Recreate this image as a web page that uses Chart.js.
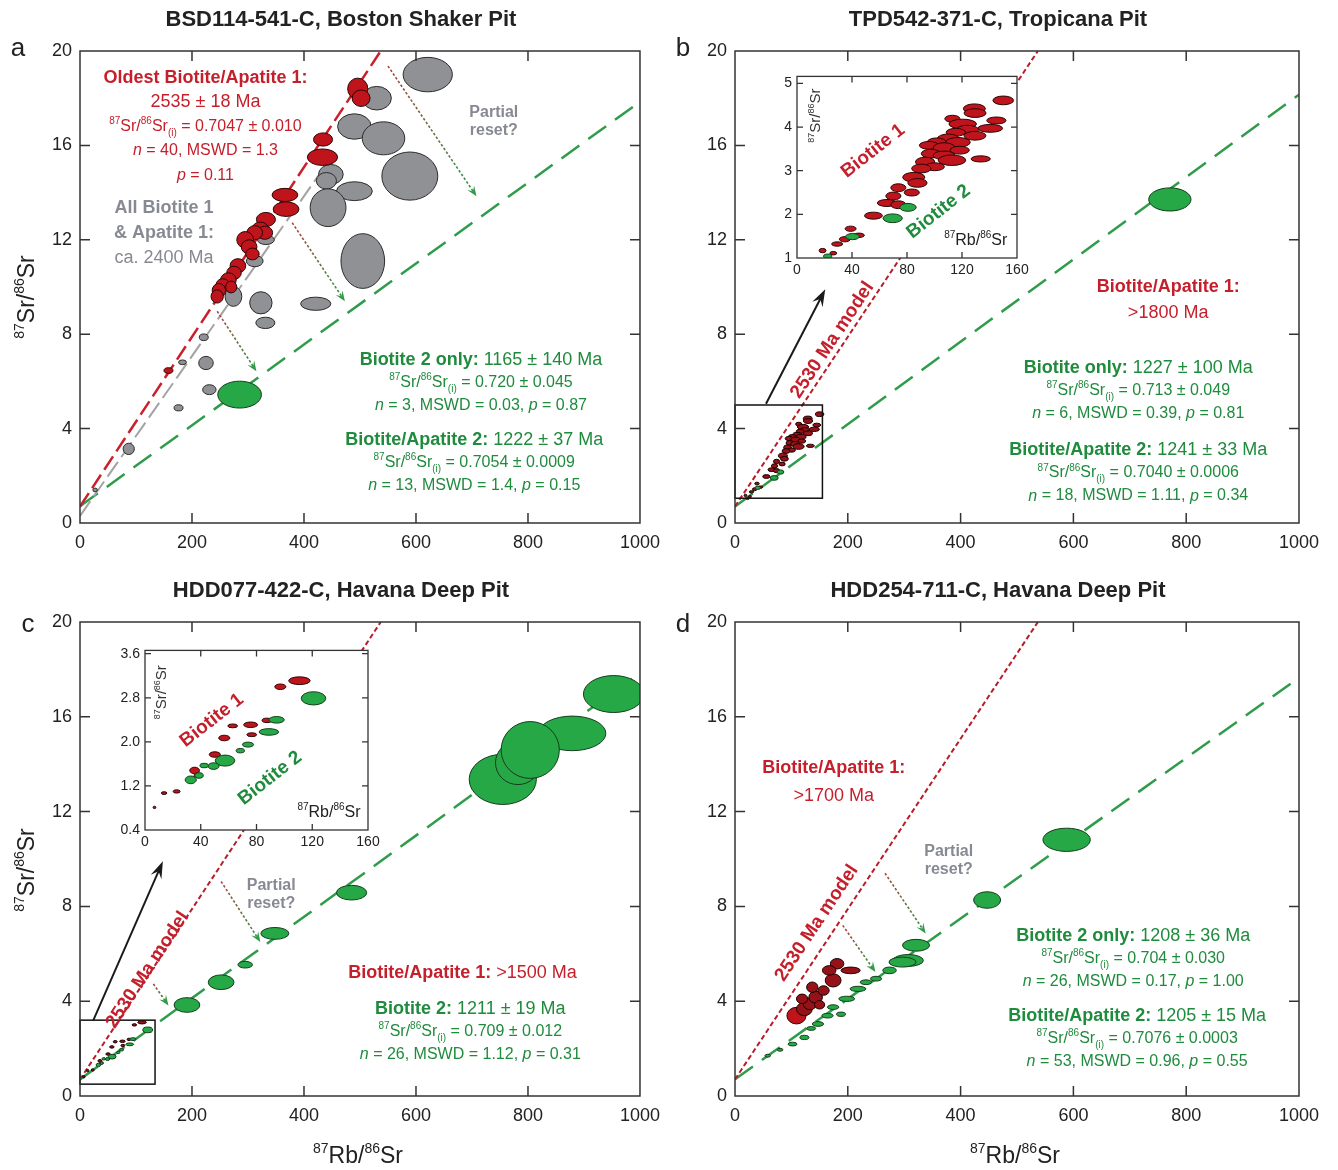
<!DOCTYPE html>
<html>
<head>
<meta charset="utf-8">
<script src="https://cdn.jsdelivr.net/npm/chart.js@4.4.1/dist/chart.umd.min.js"></script>
<style>
body { margin:0; background:#fff; width:1338px; height:1170px; position:relative; overflow:hidden; }
canvas { position:absolute; }
</style>
</head>
<body>
<canvas id="pa" width="669" height="585" style="left:0;top:0"></canvas>
<canvas id="pb" width="669" height="585" style="left:669px;top:0"></canvas>
<canvas id="pc" width="669" height="610" style="left:0;top:560px"></canvas>
<canvas id="pd" width="669" height="610" style="left:669px;top:560px"></canvas>
<canvas id="ib" width="268" height="222" style="left:767px;top:63px"></canvas>
<canvas id="ic" width="285" height="218" style="left:100px;top:637px"></canvas>
<script>
// tick labels
const xTicks = [0, 200, 400, 600, 800, 1000];
const yTicks = [0, 4, 8, 12, 16, 20];
const insetXTicks = [0, 40, 80, 120, 160];
const insetBYTicks = [1, 2, 3, 4, 5];
const insetCYTicks = [0.4, 1.2, 2.0, 2.8, 3.6];

// ellipses: [87Rb/86Sr, 87Sr/86Sr, half-width, half-height] (data units)
const aGray = [
  [621,19.0,44,0.73],[530,18.0,26,0.5],[490,16.8,30,0.54],[542,16.3,38,0.7],[589,14.7,50,1.02],
  [448,14.77,22,0.42],[440,14.5,18,0.35],[490,14.06,32,0.4],[443,13.36,32,0.8],[505,11.1,39,1.16],
  [421,9.29,27,0.28],[323,9.33,20,0.47],[331,8.48,17,0.24],[274,9.6,15,0.42],[332,12.0,15,0.2],
  [312,11.1,15,0.24],[221,7.87,8,0.14],[225,6.78,13,0.28],[183,6.81,7,0.1],[231,5.65,12,0.21],
  [176,4.88,8,0.13],[87,3.14,10,0.24],[27,1.4,4,0.08]
];
const aRed = [
  [496,18.4,18,0.45],[502,18.0,16,0.35],[434,16.25,17,0.28],[433,15.5,27,0.35],[366,13.9,23,0.28],
  [368,13.3,23,0.31],[332,12.86,17,0.3],[322,12.5,14,0.25],[330,12.3,14,0.28],[312,12.3,14,0.3],
  [295,12.0,15,0.35],[302,11.7,14,0.3],[308,11.4,12,0.25],[282,10.9,14,0.3],[275,10.6,13,0.28],
  [265,10.3,14,0.3],[255,10.1,12,0.25],[270,10.0,10,0.25],[248,9.85,12,0.3],[245,9.6,11,0.28],
  [158,6.46,8,0.12]
];
const aGreen = [[285,5.44,39,0.57]];

const bGreen = [[771,13.71,37.5,0.49]];
const bInRed = [
  [150,4.61,7.5,0.1],[129,4.42,8,0.11],[129.5,4.32,8,0.1],[113,4.19,5.5,0.08],[120.5,4.07,10,0.11],
  [145,4.15,7,0.08],[140.5,3.97,9,0.09],[124,3.94,8,0.1],[115.5,3.88,7,0.09],[129.4,3.8,8,0.1],
  [110,3.73,8,0.11],[101.6,3.65,7,0.1],[96,3.58,7,0.09],[117,3.65,9,0.11],[107,3.52,8,0.12],
  [118.3,3.47,7,0.09],[97.4,3.39,7,0.1],[107,3.35,8,0.1],[112.7,3.24,10,0.12],[133.6,3.27,7,0.07],
  [93.2,3.2,7,0.11],[100.2,3.09,7,0.09],[90.4,3.05,7,0.1],[84.9,2.85,8,0.11],[87.6,2.72,7,0.1],
  [73.7,2.61,5.5,0.09],[70.1,2.42,5.5,0.09],[83.5,2.5,5.5,0.08],[65.4,2.26,7,0.08],[73.7,2.22,5.5,0.09],
  [55.6,1.97,6.5,0.08],[45,1.52,4,0.05],[39,1.67,4,0.06],[34.8,1.43,4,0.06],[29.2,1.32,4,0.05],
  [18.6,1.17,2.5,0.05],[26.4,1.11,2.5,0.04]
];
const bInGreen = [[69.6,1.91,7,0.1],[80.7,2.16,6,0.09],[40.3,1.49,5,0.07],[22.3,1.04,3,0.05]];

const cGreen = [
  [953,16.96,54,0.78],[879,15.3,60,0.73],[755,13.36,60,1.06],[782,14.06,40,0.92],[804,14.6,52,1.2],
  [485,8.58,27,0.31],[348,6.86,25,0.25],[295,5.54,13,0.14],[252,4.8,23,0.31],[191,3.84,23,0.31]
];
const cInRed = [
  [110.8,3.11,7.7,0.07],[97.1,3.0,4,0.05],[75.8,2.31,5,0.05],[87.5,2.39,3.5,0.04],[62.9,2.29,3.5,0.035],
  [56.9,2.07,4,0.05],[50.1,1.77,4,0.05],[35.6,1.48,3.5,0.06],[76.6,2.13,3.5,0.035],[38.3,1.39,3,0.04],
  [13.7,1.07,2,0.025],[22.7,1.1,2.5,0.03],[6.8,0.81,1,0.02]
];
const cInGreen = [
  [120.9,2.79,8.8,0.12],[94.4,2.4,5.5,0.06],[88.9,2.18,7,0.06],[73.9,1.95,4,0.045],[68.4,1.84,3,0.04],
  [57.4,1.66,7,0.1],[49.2,1.56,4,0.06],[42.4,1.57,3,0.04],[32.8,1.31,4,0.07],[38.8,1.39,3,0.05]
];

const dGreen = [
  [588,10.81,42,0.49],[447,8.27,24,0.35],[321,6.36,24,0.25],[307,5.72,27,0.25],[297,5.65,24,0.21],
  [274,5.3,12,0.14],[250,4.95,10,0.1],[232,4.8,10,0.1],[218,4.52,14,0.11],[198,4.1,14,0.11],
  [188,3.45,8,0.09],[174,3.75,10,0.1],[164,3.39,10,0.1],[147,3.04,10,0.1],[135,2.85,8,0.08],
  [123,2.47,8,0.09],[102,2.19,8,0.08],[80,1.95,5,0.06],[58,1.7,5,0.06]
];
const dRedBig = [[109,3.39,17,0.35]];
const dRed = [
  [123,3.67,14,0.28],[133,3.89,12,0.25],[143,4.17,12,0.25],[137,4.59,10,0.22],
  [174,4.88,14,0.28],[181,5.58,12,0.22],[205,5.3,17,0.14],[167,5.3,12,0.2],[157,4.45,10,0.2],
  [119,4.1,10,0.2],[150,3.85,9,0.18]
];

// isochron / model lines, end points
const aRedLine = [{x:0,y:0.70},{x:537,y:20}];
const aGrayLine = [{x:0,y:0.30},{x:440,y:15.2}];
const aGreenLine = [{x:0,y:0.71},{x:1000,y:17.85}];
const bRedLine = [{x:0,y:0.70},{x:537,y:20}];
const bGreenLine = [{x:0,y:0.70},{x:1000,y:18.15}];
const cRedLine = [{x:0,y:0.70},{x:537,y:20}];
const cGreenLine = [{x:0,y:0.70},{x:1000,y:17.85}];
const dRedLine = [{x:0,y:0.70},{x:537,y:20}];
const dGreenLine = [{x:0,y:0.71},{x:1000,y:17.65}];

const FONT = '"Liberation Sans", Arial, Helvetica, sans-serif';
Chart.defaults.font.family = FONT;
const RED = '#c41f2b', GREEN = '#1f8b3d', GRAY = '#878a93';

function parseRich(s) {
  const out = [], re = /(\*\*[^*]+\*\*|\*[^*]+\*|\^\{[^}]*\}|_\{[^}]*\})/g;
  let last = 0, m;
  while ((m = re.exec(s))) {
    if (m.index > last) out.push([s.slice(last, m.index), '']);
    const t = m[0];
    if (t.startsWith('**')) out.push([t.slice(2, -2), 'b']);
    else if (t[0] === '*') out.push([t.slice(1, -1), 'i']);
    else if (t[0] === '^') out.push([t.slice(2, -1), 'u']);
    else out.push([t.slice(2, -1), 'd']);
    last = re.lastIndex;
  }
  if (last < s.length) out.push([s.slice(last), '']);
  return out;
}
function fontOf(f, size) {
  const s = (f === 'u' || f === 'd') ? Math.round(size * 0.6) : size;
  return (f === 'i' ? 'italic ' : '') + (f === 'b' ? 'bold ' : '') + s + 'px ' + FONT;
}
function richText(ctx, s, x, y, size, color, align) {
  const segs = parseRich(s);
  let w = 0;
  const ws = segs.map(([t, f]) => { ctx.font = fontOf(f, size); const m = ctx.measureText(t).width; w += m; return m; });
  let cx = align === 'left' ? x : align === 'right' ? x - w : x - w / 2;
  ctx.fillStyle = color; ctx.textBaseline = 'middle'; ctx.textAlign = 'left';
  segs.forEach(([t, f], i) => {
    ctx.font = fontOf(f, size);
    const dy = f === 'u' ? -size * 0.33 : f === 'd' ? size * 0.4 : 0;
    ctx.fillText(t, cx, y + dy);
    cx += ws[i];
  });
}

function dotArrow(ctx, x1, y1, x2, y2) {
  const g = ctx.createLinearGradient(x1, y1, x2, y2);
  g.addColorStop(0, '#a8453a'); g.addColorStop(1, '#2f9a47');
  const ang = Math.atan2(y2 - y1, x2 - x1), hl = 11;
  ctx.save();
  ctx.strokeStyle = g; ctx.lineWidth = 1.6; ctx.setLineDash([2.5, 2]);
  ctx.beginPath(); ctx.moveTo(x1, y1); ctx.lineTo(x2 - Math.cos(ang) * 4, y2 - Math.sin(ang) * 4); ctx.stroke();
  ctx.setLineDash([]); ctx.fillStyle = '#2f9a47';
  ctx.beginPath(); ctx.moveTo(x2, y2);
  ctx.lineTo(x2 - hl * Math.cos(ang - 0.38), y2 - hl * Math.sin(ang - 0.38));
  ctx.lineTo(x2 - hl * 0.55 * Math.cos(ang), y2 - hl * 0.55 * Math.sin(ang));
  ctx.lineTo(x2 - hl * Math.cos(ang + 0.38), y2 - hl * Math.sin(ang + 0.38));
  ctx.closePath(); ctx.fill();
  ctx.restore();
}
function blackArrow(ctx, x1, y1, x2, y2) {
  const ang = Math.atan2(y2 - y1, x2 - x1), hl = 18;
  ctx.save();
  ctx.strokeStyle = '#1a1a1a'; ctx.fillStyle = '#1a1a1a'; ctx.lineWidth = 2;
  ctx.beginPath(); ctx.moveTo(x1, y1); ctx.lineTo(x2 - Math.cos(ang) * 8, y2 - Math.sin(ang) * 8); ctx.stroke();
  ctx.beginPath(); ctx.moveTo(x2, y2);
  ctx.lineTo(x2 - hl * Math.cos(ang - 0.33), y2 - hl * Math.sin(ang - 0.33));
  ctx.lineTo(x2 - hl * 0.6 * Math.cos(ang), y2 - hl * 0.6 * Math.sin(ang));
  ctx.lineTo(x2 - hl * Math.cos(ang + 0.33), y2 - hl * Math.sin(ang + 0.33));
  ctx.closePath(); ctx.fill();
  ctx.restore();
}

function decor(c) {
  return {
    id: 'decor',
    beforeDatasetsDraw(chart) {
      if (!c.inset) return;
      const a = chart.chartArea;
      chart.ctx.fillStyle = '#fff';
      chart.ctx.fillRect(a.left, a.top, a.width, a.height);
    },
    afterDatasetsDraw(chart) {
      const ctx = chart.ctx, a = chart.chartArea, xs = chart.scales.x, ys = chart.scales.y;
      const X = v => xs.getPixelForValue(v), Y = v => ys.getPixelForValue(v);
      // error ellipses
      ctx.save();
      ctx.beginPath(); ctx.rect(a.left, a.top, a.width, a.height); ctx.clip();
      chart.data.datasets.forEach((ds, i) => {
        if (!ds.ell) return;
        chart.getDatasetMeta(i).data.forEach((el, j) => {
          const d = ds.data[j];
          const rx = Math.max(Math.abs(X(d.x + d.rx) - el.x), 1.2);
          const ry = Math.max(Math.abs(Y(d.y + d.ry) - el.y), 1.2);
          ctx.beginPath(); ctx.ellipse(el.x, el.y, rx, ry, 0, 0, Math.PI * 2);
          ctx.fillStyle = ds.ell.fill; ctx.fill();
          ctx.lineWidth = 1; ctx.strokeStyle = ds.ell.stroke; ctx.stroke();
        });
      });
      ctx.restore();

      ctx.save();
      (c.boxes || []).forEach(b => {
        ctx.strokeStyle = '#111'; ctx.lineWidth = 1.5;
        ctx.strokeRect(X(b[0]), Y(b[3]), X(b[2]) - X(b[0]), Y(b[1]) - Y(b[3]));
      });
      (c.dots || []).forEach(([p, q]) => dotArrow(ctx, X(p[0]), Y(p[1]), X(q[0]), Y(q[1])));
      (c.blacks || []).forEach(([p, q]) => blackArrow(ctx, X(p[0]), Y(p[1]), X(q[0]), Y(q[1])));

      // frame with inward ticks on all four sides
      ctx.strokeStyle = '#333'; ctx.lineWidth = c.fw;
      ctx.strokeRect(a.left, a.top, a.width, a.height);
      const L = c.tl;
      ctx.beginPath();
      xs.ticks.forEach(t => {
        const p = X(t.value);
        if (p <= a.left + 1 || p >= a.right - 1) return;
        ctx.moveTo(p, a.bottom); ctx.lineTo(p, a.bottom - L);
        ctx.moveTo(p, a.top); ctx.lineTo(p, a.top + L);
      });
      ys.ticks.forEach(t => {
        const p = Y(t.value);
        if (p >= a.bottom - 1 || p <= a.top + 1) return;
        ctx.moveTo(a.left, p); ctx.lineTo(a.left + L, p);
        ctx.moveTo(a.right, p); ctx.lineTo(a.right - L, p);
      });
      ctx.stroke();

      // annotations
      (c.blocks || []).forEach(b => {
        b.lines.forEach((s, k) => richText(ctx, s, X(b.x), Y(b.y) + k * (b.gap || 0), b.sizes[k], b.color, 'center'));
      });
      (c.rots || []).forEach(r => {
        let ang = (r.angle || 0) * Math.PI / 180;
        if (r.along) {
          const [p, q] = r.along;
          ang = Math.atan2(Y(q.y) - Y(p.y), X(q.x) - X(p.x));
        }
        ctx.save(); ctx.translate(X(r.x), Y(r.y)); ctx.rotate(ang);
        richText(ctx, r.text, 0, 0, r.size, r.color, 'center');
        ctx.restore();
      });
      if (c.title) richText(ctx, '**' + c.title + '**', (a.left + a.right) / 2 - 19, a.top - 31, 22, '#222', 'center');
      if (c.letter) richText(ctx, c.letter[0], a.left + c.letter[1], a.top + c.letter[2], 26, '#222', 'center');
      if (c.yt) {
        ctx.save(); ctx.translate(a.left + c.yt[0], (a.top + a.bottom) / 2 + c.yt[1]); ctx.rotate(-Math.PI / 2);
        richText(ctx, '^{87}Sr/^{86}Sr', 0, 0, 23, '#222', 'center');
        ctx.restore();
      }
      if (c.xt) richText(ctx, '^{87}Rb/^{86}Sr', (a.left + a.right) / 2 + c.xt[0], a.bottom + c.xt[1], 23, '#222', 'center');
      ctx.restore();
    }
  };
}

const ellStyle = {
  red: {fill: '#c0141c', stroke: '#2a0505'},
  darkred: {fill: '#941218', stroke: '#1a0000'},
  gray: {fill: '#8f9195', stroke: '#2b2b2b'},
  green: {fill: '#27a846', stroke: '#123d1c'}
};
function ellSet(arr, kind) {
  return {data: arr.map(([x, y, rx, ry]) => ({x, y, rx, ry})), ell: ellStyle[kind], pointRadius: 0, showLine: false};
}
function lineSet(pts, color, width, dash) {
  return {data: pts, showLine: true, borderColor: color, borderWidth: width, borderDash: dash, pointRadius: 0, fill: false};
}

function axis(range, ticks, fitProp, fitVal, fs, pad, fmt) {
  return {
    type: 'linear', min: range[0], max: range[1],
    afterBuildTicks: s => { s.ticks = ticks.map(v => ({value: v})); },
    afterFit: s => { s[fitProp] = fitVal; },
    grid: {display: false, drawTicks: false}, border: {display: false},
    ticks: {color: '#222', font: {size: fs}, padding: pad, maxRotation: 0, autoSkip: false,
      callback: v => fmt ? fmt(v) : String(v)}
  };
}
function mkChart(id, lay, datasets, cfg) {
  return new Chart(document.getElementById(id), {
    type: 'scatter',
    data: {datasets},
    options: {
      responsive: false, animation: false, devicePixelRatio: 1, events: [],
      layout: {padding: lay.pad},
      plugins: {legend: {display: false}, tooltip: {enabled: false}},
      scales: {
        x: axis(lay.x, lay.xt, 'height', lay.xh, lay.fs, lay.tpx, lay.fmtx),
        y: axis(lay.y, lay.yt, 'width', lay.yw, lay.fs, lay.tpy, lay.fmty)
      }
    },
    plugins: [decor(cfg)]
  });
}
const mainLay = pad => ({pad, x: [0, 1000], y: [0, 20], xt: xTicks, yt: yTicks, xh: 40, yw: 50, fs: 18, tpx: 9, tpy: 8});
const srLine = v => '^{87}Sr/^{86}Sr_{(i)} = ' + v;

// panel a
mkChart('pa', mainLay({left: 30, right: 21, top: 51, bottom: 22}), [
  lineSet(aGrayLine, '#a3a3a3', 2, [18, 6]),
  lineSet(aRedLine, '#c9202c', 2.5, [16, 6]),
  lineSet(aGreenLine, '#2e9c4a', 2.5, [22, 11]),
  ellSet(aGray, 'gray'), ellSet(aRed, 'red'), ellSet(aGreen, 'green')
], {
  fw: 1.5, tl: 10, title: 'BSD114-541-C, Boston Shaker Pit', letter: ['a', -62, -2], yt: [-52, 10],
  dots: [[[550, 19.36], [708, 13.85]], [[379, 12.72], [473, 9.4]], [[245, 8.97], [315, 6.43]]],
  blocks: [
    {x: 224, y: 18.86, color: RED, gap: 24.3, sizes: [18, 18, 16, 16, 16],
     lines: ['**Oldest Biotite/Apatite 1:**', '2535 ± 18 Ma', srLine('0.7047 ± 0.010'), '*n* = 40, MSWD = 1.3', '*p* = 0.11']},
    {x: 150, y: 13.35, color: GRAY, gap: 25, sizes: [18, 18, 18], lines: ['**All Biotite 1**', '**& Apatite 1:**', 'ca. 2400 Ma']},
    {x: 739, y: 17.37, color: GRAY, gap: 18, sizes: [16, 16], lines: ['**Partial**', '**reset?**']},
    {x: 716, y: 6.91, color: GREEN, gap: 23, sizes: [18, 16, 16],
     lines: ['**Biotite 2 only:** 1165 ± 140 Ma', srLine('0.720 ± 0.045'), '*n* = 3, MSWD = 0.03, *p* = 0.87']},
    {x: 704, y: 3.52, color: GREEN, gap: 23, sizes: [18, 16, 16],
     lines: ['**Biotite/Apatite 2:** 1222 ± 37 Ma', srLine('0.7054 ± 0.0009'), '*n* = 13, MSWD = 1.4, *p* = 0.15']}
  ]
});

// panel b
mkChart('pb', mainLay({left: 16, right: 39, top: 51, bottom: 22}), [
  lineSet(bRedLine, '#b81c28', 2, [5, 3]),
  lineSet(bGreenLine, '#2e9c4a', 2.5, [22, 11]),
  ellSet(bInRed, 'darkred'), ellSet(bInGreen, 'green'), ellSet(bGreen, 'green')
], {
  fw: 1.5, tl: 10, title: 'TPD542-371-C, Tropicana Pit', letter: ['b', -52, -2],
  boxes: [[0, 1.05, 155, 5.0]], blacks: [[[55, 5.05], [160, 9.9]]],
  rots: [{x: 172.6, y: 7.75, text: '**2530 Ma model**', color: RED, size: 19, along: bRedLine}],
  blocks: [
    {x: 768, y: 10.0, color: RED, gap: 26, sizes: [18, 18], lines: ['**Biotite/Apatite 1:**', '>1800 Ma']},
    {x: 715, y: 6.57, color: GREEN, gap: 23, sizes: [18, 16, 16],
     lines: ['**Biotite only:** 1227 ± 100 Ma', srLine('0.713 ± 0.049'), '*n* = 6, MSWD = 0.39, *p* = 0.81']},
    {x: 715, y: 3.09, color: GREEN, gap: 23, sizes: [18, 16, 16],
     lines: ['**Biotite/Apatite 2:** 1241 ± 33 Ma', srLine('0.7040 ± 0.0006'), '*n* = 18, MSWD = 1.11, *p* = 0.34']}
  ]
});

// panel c
mkChart('pc', mainLay({left: 30, right: 21, top: 62, bottom: 34}), [
  lineSet(cRedLine, '#b81c28', 2, [5, 3]),
  lineSet(cGreenLine, '#2e9c4a', 2.5, [22, 11]),
  ellSet(cInRed, 'darkred'), ellSet(cInGreen, 'green'), ellSet(cGreen, 'green')
], {
  fw: 1.5, tl: 10, title: 'HDD077-422-C, Havana Deep Pit', letter: ['c', -52, 3], yt: [-52, 11], xt: [-2, 61],
  boxes: [[0, 0.5, 134, 3.2]], blacks: [[[23.5, 3.18], [148, 9.9]]],
  dots: [[[252, 9.05], [322, 6.5]], [[131, 4.73], [158, 3.82]]],
  rots: [{x: 120.6, y: 5.32, text: '**2530 Ma model**', color: RED, size: 19, along: cRedLine}],
  blocks: [
    {x: 341.5, y: 8.86, color: GRAY, gap: 18, sizes: [16, 16], lines: ['**Partial**', '**reset?**']},
    {x: 683, y: 5.19, color: RED, gap: 0, sizes: [18], lines: ['**Biotite/Apatite 1:** >1500 Ma']},
    {x: 697, y: 3.67, color: GREEN, gap: 23, sizes: [18, 16, 16],
     lines: ['**Biotite 2:** 1211 ± 19 Ma', srLine('0.709 ± 0.012'), '*n* = 26, MSWD = 1.12, *p* = 0.31']}
  ]
});

// panel d
mkChart('pd', mainLay({left: 16, right: 39, top: 62, bottom: 34}), [
  lineSet(dRedLine, '#b81c28', 2, [5, 3]),
  lineSet(dGreenLine, '#2e9c4a', 2.5, [22, 11]),
  ellSet(dGreen, 'green'), ellSet(dRedBig, 'red'), ellSet(dRed, 'darkred')
], {
  fw: 1.5, tl: 10, title: 'HDD254-711-C, Havana Deep Pit', letter: ['d', -52, 3], xt: [-2, 61],
  dots: [[[266, 9.4], [338, 6.86]], [[191, 7.2], [249, 5.23]]],
  rots: [{x: 145, y: 7.3, text: '**2530 Ma model**', color: RED, size: 19, along: dRedLine}],
  blocks: [
    {x: 175, y: 13.84, color: RED, gap: 28, sizes: [18, 18], lines: ['**Biotite/Apatite 1:**', '>1700 Ma']},
    {x: 379, y: 10.3, color: GRAY, gap: 18, sizes: [16, 16], lines: ['**Partial**', '**reset?**']},
    {x: 706, y: 6.75, color: GREEN, gap: 23, sizes: [18, 16, 16],
     lines: ['**Biotite 2 only:** 1208 ± 36 Ma', srLine('0.704 ± 0.030'), '*n* = 26, MSWD = 0.17, *p* = 1.00']},
    {x: 713, y: 3.38, color: GREEN, gap: 23, sizes: [18, 16, 16],
     lines: ['**Biotite/Apatite 2:** 1205 ± 15 Ma', srLine('0.7076 ± 0.0003'), '*n* = 53, MSWD = 0.96, *p* = 0.55']}
  ]
});

// inset b
mkChart('ib', {pad: {left: 8, right: 18, top: 10, bottom: 7}, x: [0, 160], y: [1, 5.16], xt: insetXTicks, yt: insetBYTicks,
  xh: 20, yw: 22, fs: 14, tpx: 4, tpy: 5}, [
  ellSet(bInRed, 'red'), ellSet(bInGreen, 'green')
], {
  inset: true, fw: 1.3, tl: 6,
  rots: [
    {x: 55.3, y: 3.45, text: '**Biotite 1**', color: RED, size: 19, angle: -38},
    {x: 103, y: 2.06, text: '**Biotite 2**', color: GREEN, size: 19, angle: -38},
    {x: 13.8, y: 4.26, text: '^{87}Sr/^{86}Sr', color: '#333', size: 15, angle: -90}
  ],
  blocks: [{x: 130, y: 1.4, color: '#222', gap: 0, sizes: [16], lines: ['^{87}Rb/^{86}Sr']}]
});

// inset c
mkChart('ic', {pad: {left: 7, right: 17, top: 10, bottom: 5}, x: [0, 160], y: [0.4, 3.66], xt: insetXTicks, yt: insetCYTicks,
  xh: 20, yw: 38, fs: 14, tpx: 4, tpy: 5, fmty: v => v.toFixed(1)}, [
  ellSet(cInRed, 'red'), ellSet(cInGreen, 'green')
], {
  inset: true, fw: 1.3, tl: 6,
  rots: [
    {x: 48, y: 2.39, text: '**Biotite 1**', color: RED, size: 19, angle: -38},
    {x: 89.7, y: 1.34, text: '**Biotite 2**', color: GREEN, size: 19, angle: -38},
    {x: 12.2, y: 2.9, text: '^{87}Sr/^{86}Sr', color: '#333', size: 15, angle: -90}
  ],
  blocks: [{x: 132, y: 0.71, color: '#222', gap: 0, sizes: [16], lines: ['^{87}Rb/^{86}Sr']}]
});
</script>
</body>
</html>
